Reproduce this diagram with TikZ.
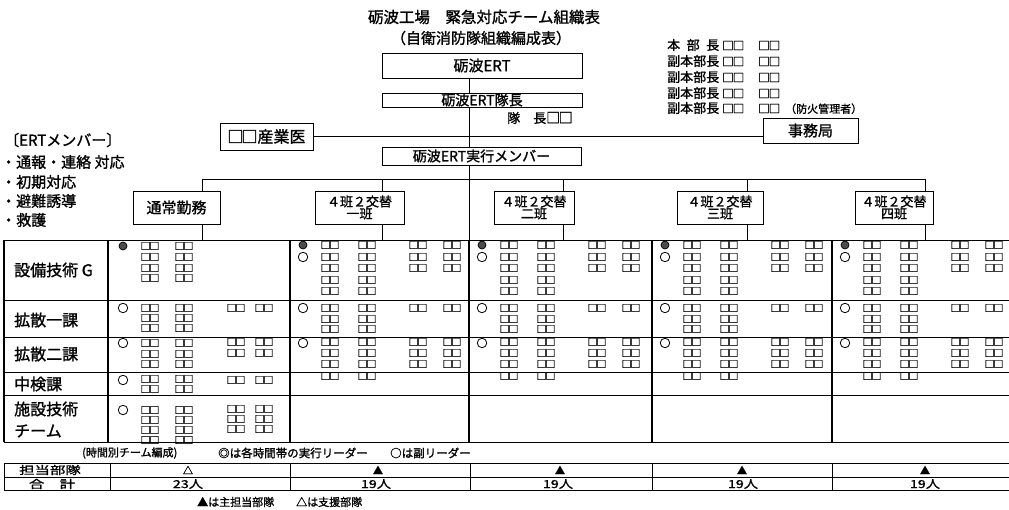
\documentclass[tikz,border=0pt]{standalone}
\usepackage{fontspec}
\usepackage{graphicx}
\setmainfont{Noto Sans CJK JP}[FakeBold=1.3]
\newcommand\myfs[1]{\fontsize{#1}{#1}\selectfont}
\newcommand\pr[2]{{\myfs{#1}□\kern#2□}}
\newcommand\tp{\pr{9.8}{-0.9pt}}
\tikzset{
 ln/.style={line width=0.9pt},
 bx/.style={draw, line width=0.9pt, inner sep=0pt, align=center},
 sq/.style={inner sep=0pt},
 lead/.style={circle, draw, fill=black!70, minimum size=8pt, inner sep=0pt, line width=0.7pt},
 sub/.style={circle, draw, minimum size=9.5pt, inner sep=0pt, line width=0.8pt},
 lbl/.style={anchor=west, inner sep=0pt, font=\myfs{16}},
 txt/.style={anchor=west, inner sep=0pt},
 tl/.style={line width=0.8pt},
}
\begin{document}
\begin{tikzpicture}[x=1pt,y=-1pt]
\useasboundingbox (0,0) rectangle (1009,510);
% ---------- title
\node[font=\myfs{15.5}] (title1) at (484,17) {砺波工場　緊急対応チーム組織表};
\node[font=\myfs{15}] (title2) at (481,38) {（自衛消防隊組織編成表）};
% ---------- top boxes
\coordinate (trunk) at (469,0);
\node[bx, font=\myfs{15}, minimum width=200pt, minimum height=25pt] (ert) at (482,65.5) {砺波ERT};
\node[bx, font=\myfs{14}, minimum width=200pt, minimum height=14pt] (taichou) at (482,100) {砺波ERT隊長};
\node[txt, font=\myfs{13}] (tcname) at (507,118) {隊　長\pr{14}{-1.5pt}};
\node[bx, font=\myfs{14}, minimum width=199pt, minimum height=18pt] (jikkou) at (481.5,156) {砺波ERT実行メンバー};
\node[bx, font=\myfs{16}, minimum width=93pt, minimum height=27pt] (sangyoui) at (266.5,136.5) {\pr{16}{-2pt}産業医};
\node[bx, font=\myfs{15}, minimum width=95pt, minimum height=25pt] (jimu) at (810.5,130.5) {事務局};
% ---------- right list
\node[txt, font=\myfs{13}] (r1) at (667,45) {\hbox to 52pt{本\hfil 部\hfil 長}\hspace{3pt}\pr{11.5}{-1pt}\hspace{14pt}\pr{11.5}{-1pt}};
\node[txt, font=\myfs{13}] (r2) at (667,61) {副本部長\hspace{3pt}\pr{11.5}{-1pt}\hspace{14pt}\pr{11.5}{-1pt}};
\node[txt, font=\myfs{13}] (r3) at (667,77) {副本部長\hspace{3pt}\pr{11.5}{-1pt}\hspace{14pt}\pr{11.5}{-1pt}};
\node[txt, font=\myfs{13}] (r4) at (667,93) {副本部長\hspace{3pt}\pr{11.5}{-1pt}\hspace{14pt}\pr{11.5}{-1pt}};
\node[txt, font=\myfs{13}] (r5) at (667,108) {副本部長\hspace{3pt}\pr{11.5}{-1pt}\hspace{14pt}\pr{11.5}{-1pt}\hspace{5pt}{\myfs{11}（防火管理者）}};
% ---------- left member list
\node[txt, font=\myfs{15}] (m0) at (4,140) {〔ERTメンバー〕};
\node[txt, font=\myfs{15}] (m1) at (1,162) {・通報・連絡 対応};
\node[txt, font=\myfs{15}] (m2) at (1,182) {・初期対応};
\node[txt, font=\myfs{15}] (m3) at (1,201) {・避難誘導};
\node[txt, font=\myfs{15}] (m4) at (1,220) {・救護};
% ---------- team boxes
\node[bx, font=\myfs{15}, minimum width=87pt, minimum height=33pt] (tsujo) at (176.5,207.5) {通常勤務};
\node[bx, font=\myfs{13}, minimum width=89pt, minimum height=33pt] (han1) at (359.5,207.5) {４班２交替\\[-1pt]一班};
\node[bx, font=\myfs{13}, minimum width=80pt, minimum height=33pt] (han2) at (534,207.5) {４班２交替\\[-1pt]二班};
\node[bx, font=\myfs{13}, minimum width=86pt, minimum height=33pt] (han3) at (720,207.5) {４班２交替\\[-1pt]三班};
\node[bx, font=\myfs{13}, minimum width=78pt, minimum height=33pt] (han4) at (894,207.5) {４班２交替\\[-1pt]四班};
% ---------- connectors
\coordinate (tT) at (469,240);
\coordinate (v0) at (202,179);
\coordinate (v1) at (382,179);
\coordinate (v2) at (563,179);
\coordinate (v3) at (747,179);
\coordinate (v4) at (925,179);
\draw[ln] (ert.south -| trunk) -- (taichou.north -| trunk);
\draw[ln] (taichou.south -| trunk) -- (jikkou.north -| trunk);
\draw[ln] (jikkou.south -| trunk) -- (tT);
\draw[ln] (sangyoui.east) -- (sangyoui.east -| jimu.west);
\draw[ln] (v0) -- (v4);
\foreach \v/\b in {v0/tsujo,v1/han1,v2/han2,v3/han3,v4/han4}{
  \draw[ln] (\v) -- (\b.north -| \v);
  \draw[ln] (\b.south -| \v) -- (\v |- tT);
}
% ---------- main table
\foreach \y in {240,300,337,372,395,442} \draw[tl] (4,\y) -- (1009,\y);
\foreach \x in {4,108,290,469,652,832} \draw[line width=1.2pt] (\x,240) -- (\x,442);
\node[lbl] (g1) at (14,270) {設備技術 G};
\node[lbl] (g2) at (14,320) {拡散一課};
\node[lbl] (g3) at (14,354) {拡散二課};
\node[lbl] (g4) at (14,384) {中検課};
\node[lbl] (g5) at (14,409) {施設技術};
\node[lbl] (g6) at (14,431) {チーム};
% ---------- column 1 (通常勤務)
\node[lead] (L0) at (123,246) {};
\foreach \y in {246,257,268,278}{\node[sq] (a0-\y) at (150,\y) {\tp}; \node[sq] (b0-\y) at (184,\y) {\tp};}
\node[sub] (S0a) at (123,308) {};
\foreach \y in {308,318,328}{\node[sq] (a0-\y) at (150,\y) {\tp}; \node[sq] (b0-\y) at (184,\y) {\tp};}
\foreach \y in {308}{\node[sq] (c0-\y) at (236,\y) {\tp}; \node[sq] (d0-\y) at (264,\y) {\tp};}
\node[sub] (S0b) at (123,343) {};
\foreach \y in {343,354,364}{\node[sq] (a0-\y) at (150,\y) {\tp}; \node[sq] (b0-\y) at (184,\y) {\tp};}
\foreach \y in {342,353}{\node[sq] (c0-\y) at (236,\y) {\tp}; \node[sq] (d0-\y) at (264,\y) {\tp};}
\node[sub] (S0c) at (123,380) {};
\foreach \y in {379,389}{\node[sq] (a0-\y) at (150,\y) {\tp}; \node[sq] (b0-\y) at (184,\y) {\tp};}
\foreach \y in {380}{\node[sq] (c0-\y) at (236,\y) {\tp}; \node[sq] (d0-\y) at (264,\y) {\tp};}
\node[sub] (S0d) at (123,410) {};
\foreach \y in {410,420,430,440}{\node[sq] (a0-\y) at (150,\y) {\tp}; \node[sq] (b0-\y) at (184,\y) {\tp};}
\foreach \y in {409,419,429}{\node[sq] (c0-\y) at (236,\y) {\tp}; \node[sq] (d0-\y) at (264,\y) {\tp};}
% ---------- columns 2-5 (4班2交替)
\foreach \c/\n in {290/1,469/2,652/3,832/4}{
  \node[lead] (L\n) at (\c+13,245) {};
  \node[sub] (S\n a) at (\c+13,257) {};
  \foreach \y in {245,257,268,280,291}{\node[sq] (a\n-\y) at (\c+40,\y) {\tp}; \node[sq] (b\n-\y) at (\c+77,\y) {\tp};}
  \foreach \y in {245,257,268}{\node[sq] (c\n-\y) at (\c+128,\y) {\tp}; \node[sq] (d\n-\y) at (\c+162,\y) {\tp};}
  \node[sub] (S\n b) at (\c+13,308) {};
  \foreach \y in {308,319,329}{\node[sq] (a\n-\y) at (\c+40,\y) {\tp}; \node[sq] (b\n-\y) at (\c+77,\y) {\tp};}
  \foreach \y in {308}{\node[sq] (c\n-\y) at (\c+128,\y) {\tp}; \node[sq] (d\n-\y) at (\c+162,\y) {\tp};}
  \node[sub] (S\n c) at (\c+13,343) {};
  \foreach \y in {342,353,364,376}{\node[sq] (a\n-\y) at (\c+40,\y) {\tp}; \node[sq] (b\n-\y) at (\c+77,\y) {\tp};}
  \foreach \y in {342,353,364}{\node[sq] (c\n-\y) at (\c+128,\y) {\tp}; \node[sq] (d\n-\y) at (\c+162,\y) {\tp};}
}
% ---------- legend
\node[txt, font=\myfs{11}] (leg1) at (82,453) {(時間別チーム編成)};
\node[txt, font=\myfs{11.5}] (leg2) at (218,453) {◎は各時間帯の実行リーダー};
\node[txt, font=\myfs{11.5}] (leg3) at (390,453) {○は副リーダー};
% ---------- bottom table
\foreach \y in {463,477,490} \draw[tl] (4,\y) -- (1009,\y);
\foreach \x in {4,110,290,470,652,832} \draw[tl] (\x,463) -- (\x,490);
\node[font=\myfs{11}, inner sep=0pt] (t0) at (50,470) {\scalebox{1.4}[1]{担当部隊}};
\node[font=\myfs{11}, inner sep=0pt] (t1) at (52,484) {\scalebox{1.4}[1]{合　計}};
\node[font=\myfs{10}, inner sep=0pt] (k1) at (188,470) {△};
\node[font=\myfs{10}, inner sep=0pt] (k2) at (378,470) {▲};
\node[font=\myfs{10}, inner sep=0pt] (k3) at (560,470) {▲};
\node[font=\myfs{10}, inner sep=0pt] (k4) at (742,470) {▲};
\node[font=\myfs{10}, inner sep=0pt] (k5) at (925,470) {▲};
\node[font=\myfs{11}, inner sep=0pt] (n1) at (188,484) {\scalebox{1.3}[1]{23人}};
\node[font=\myfs{11}, inner sep=0pt] (n2) at (376,484) {\scalebox{1.3}[1]{19人}};
\node[font=\myfs{11}, inner sep=0pt] (n3) at (558,484) {\scalebox{1.3}[1]{19人}};
\node[font=\myfs{11}, inner sep=0pt] (n4) at (743,484) {\scalebox{1.3}[1]{19人}};
\node[font=\myfs{11}, inner sep=0pt] (n5) at (925,484) {\scalebox{1.3}[1]{19人}};
\node[txt, font=\myfs{11}] (foot) at (197,502) {▲は主担当部隊　　△は支援部隊};
\end{tikzpicture}
\end{document}
